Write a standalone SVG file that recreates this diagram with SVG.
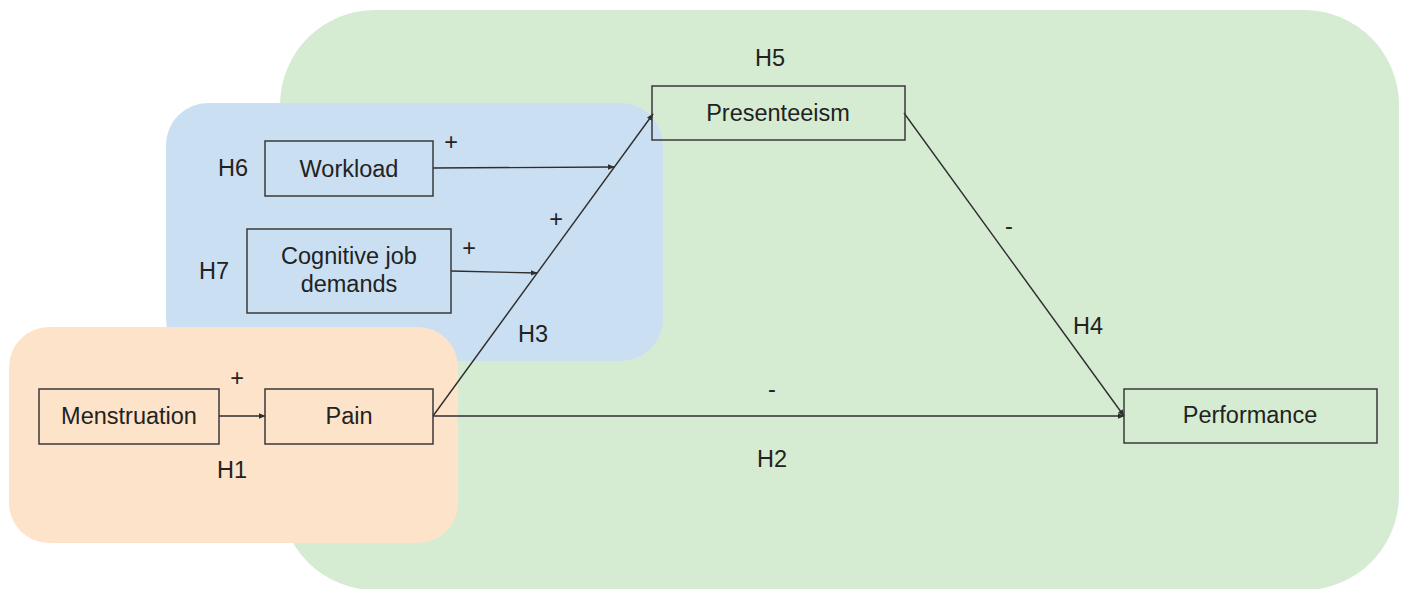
<svg xmlns="http://www.w3.org/2000/svg" width="1402" height="589" viewBox="0 0 1402 589">
  <style>
    .zone-green { fill: #d5ecd3; }
    .zone-blue { fill: #cbdff2; }
    .zone-orange { fill: #fde3c9; }
    .box { fill: none; stroke: #3a3a3a; stroke-width: 1.5; }
    .txt { font-family: "Liberation Sans", Arial, sans-serif; font-size: 23.5px; fill: #222; text-anchor: middle; }
    .edge { fill: none; stroke: #2e2e2e; stroke-width: 1.4; marker-end: url(#arrow); }
  </style>
  <defs>
    <marker id="arrow" viewBox="0 0 10 10" refX="9" refY="5" markerWidth="7" markerHeight="7" markerUnits="userSpaceOnUse" orient="auto">
      <path d="M0,1 L10,5 L0,9 z" fill="#2e2e2e"/>
    </marker>
  </defs>

  <!-- background groupings -->
  <g id="zones">
    <rect class="zone-green" x="280" y="10" width="1119" height="580" rx="95" ry="95"/>
    <rect class="zone-blue" x="166" y="103" width="497" height="258" rx="42" ry="42"/>
    <rect class="zone-orange" x="9" y="327" width="449" height="216" rx="40" ry="40"/>
  </g>

  <!-- connectors -->
  <g id="connectors">
    <line class="edge" x1="219" y1="416" x2="265" y2="416"/>
    <line class="edge" x1="433" y1="416" x2="653" y2="114"/>
    <line class="edge" x1="433" y1="168" x2="614" y2="167"/>
    <line class="edge" x1="451" y1="271" x2="537" y2="273"/>
    <line class="edge" x1="433" y1="416" x2="1124" y2="416"/>
    <line class="edge" x1="904" y1="113" x2="1124" y2="416"/>
  </g>

  <!-- nodes -->
  <g id="workload">
    <rect class="box" x="265" y="141" width="168" height="55"/>
    <text class="txt" x="349" y="177">Workload</text>
  </g>
  <g id="cognitive-job-demands">
    <rect class="box" x="247" y="229" width="204" height="84"/>
    <text class="txt" x="349" y="264">Cognitive job</text>
    <text class="txt" x="349" y="292">demands</text>
  </g>
  <g id="menstruation">
    <rect class="box" x="39" y="389" width="180" height="55"/>
    <text class="txt" x="129" y="424">Menstruation</text>
  </g>
  <g id="pain">
    <rect class="box" x="265" y="389" width="168" height="55"/>
    <text class="txt" x="349" y="424">Pain</text>
  </g>
  <g id="presenteeism">
    <rect class="box" x="652" y="86" width="253" height="54"/>
    <text class="txt" x="778" y="121">Presenteeism</text>
  </g>
  <g id="performance">
    <rect class="box" x="1124" y="389" width="253" height="54"/>
    <text class="txt" x="1250" y="423">Performance</text>
  </g>

  <!-- hypothesis labels and signs -->
  <g id="labels">
    <text class="txt" x="233" y="176">H6</text>
    <text class="txt" x="214" y="279">H7</text>
    <text class="txt" x="232" y="478">H1</text>
    <text class="txt" x="533" y="342">H3</text>
    <text class="txt" x="770" y="66">H5</text>
    <text class="txt" x="1088" y="334">H4</text>
    <text class="txt" x="772" y="467">H2</text>
    <text class="txt" x="451" y="150">+</text>
    <text class="txt" x="469" y="256">+</text>
    <text class="txt" x="556" y="227">+</text>
    <text class="txt" x="237" y="386">+</text>
    <text class="txt" x="1009" y="234">-</text>
    <text class="txt" x="772" y="397">-</text>
  </g>
</svg>
